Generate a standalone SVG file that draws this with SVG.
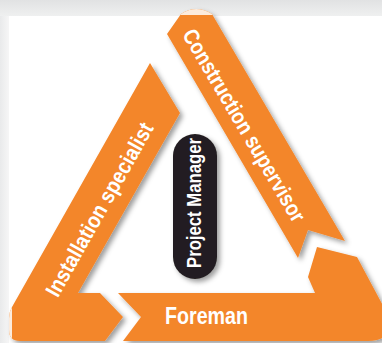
<svg xmlns="http://www.w3.org/2000/svg" width="382" height="343" viewBox="0 0 382 343">
  <defs>
    <linearGradient id="topg" x1="0" y1="0" x2="0" y2="1">
      <stop offset="0" stop-color="#e1e2e3"/>
      <stop offset="1" stop-color="#eff0f0"/>
    </linearGradient>
    <linearGradient id="leftg" x1="0" y1="0" x2="1" y2="0">
      <stop offset="0" stop-color="#e9eaeb"/>
      <stop offset="1" stop-color="#f6f6f6"/>
    </linearGradient>
    <filter id="sh" x="-20%" y="-20%" width="140%" height="140%">
      <feDropShadow dx="3" dy="3" stdDeviation="2.5" flood-color="#000" flood-opacity="0.38"/>
    </filter>
    <path id="csPath" d="M167,34 L181,14 Q196,4 212,14 L345,241 L308,230 L298,258 Z"/>
    <path id="isPath" d="M150,63 L180,113 L78,293 L100,293 L123,317 L105,341 L20,341 Q9,341 9,330 L9,318 Q9,312 12,307 Z"/>
    <clipPath id="csClip"><use href="#csPath"/></clipPath>
    <clipPath id="isClip"><use href="#isPath"/></clipPath>
    <style>
      .band { fill: #f3862a; }
      .lbl { fill: #ffffff; font-family: "Liberation Sans", Arial, sans-serif; font-weight: bold; }
    </style>
  </defs>

  <rect x="0" y="0" width="382" height="343" fill="#ffffff"/>
  <rect x="0" y="0" width="9" height="343" fill="url(#leftg)"/>
  <rect x="0" y="0" width="382" height="16" fill="url(#topg)"/>

  <g id="construction-supervisor">
    <use href="#csPath" class="band" filter="url(#sh)"/>
    <rect x="150" y="0" width="80" height="15" fill="#fcebdc" clip-path="url(#csClip)"/>
    <text class="lbl" font-size="22" text-anchor="middle" textLength="220" lengthAdjust="spacingAndGlyphs" transform="translate(237.6,129.2) rotate(59.5)">Construction supervisor</text>
  </g>

  <g id="installation-specialist">
    <use href="#isPath" class="band" filter="url(#sh)"/>
    <rect x="0" y="290" width="12" height="53" fill="#fcebdc" clip-path="url(#isClip)"/>
    <text class="lbl" font-size="22" text-anchor="middle" textLength="196" lengthAdjust="spacingAndGlyphs" transform="translate(106,213.1) rotate(-60.5)">Installation specialist</text>
  </g>

  <g id="foreman">
    <path class="band" filter="url(#sh)" d="M118,293 L315,293 L308,277 L317,247 L357,257 L388,315 Q394,330 384,337 Q378,341 368,341 L123,341 L141,317 Z"/>
    <text class="lbl" font-size="24" text-anchor="middle" textLength="83" lengthAdjust="spacingAndGlyphs" x="206.5" y="323.5">Foreman</text>
  </g>

  <g id="project-manager">
    <rect x="173" y="134" width="44" height="145" rx="22" fill="#231f20" filter="url(#sh)"/>
    <text class="lbl" font-size="21" text-anchor="middle" textLength="130" lengthAdjust="spacingAndGlyphs" transform="translate(201,203) rotate(-90)">Project Manager</text>
  </g>
</svg>
